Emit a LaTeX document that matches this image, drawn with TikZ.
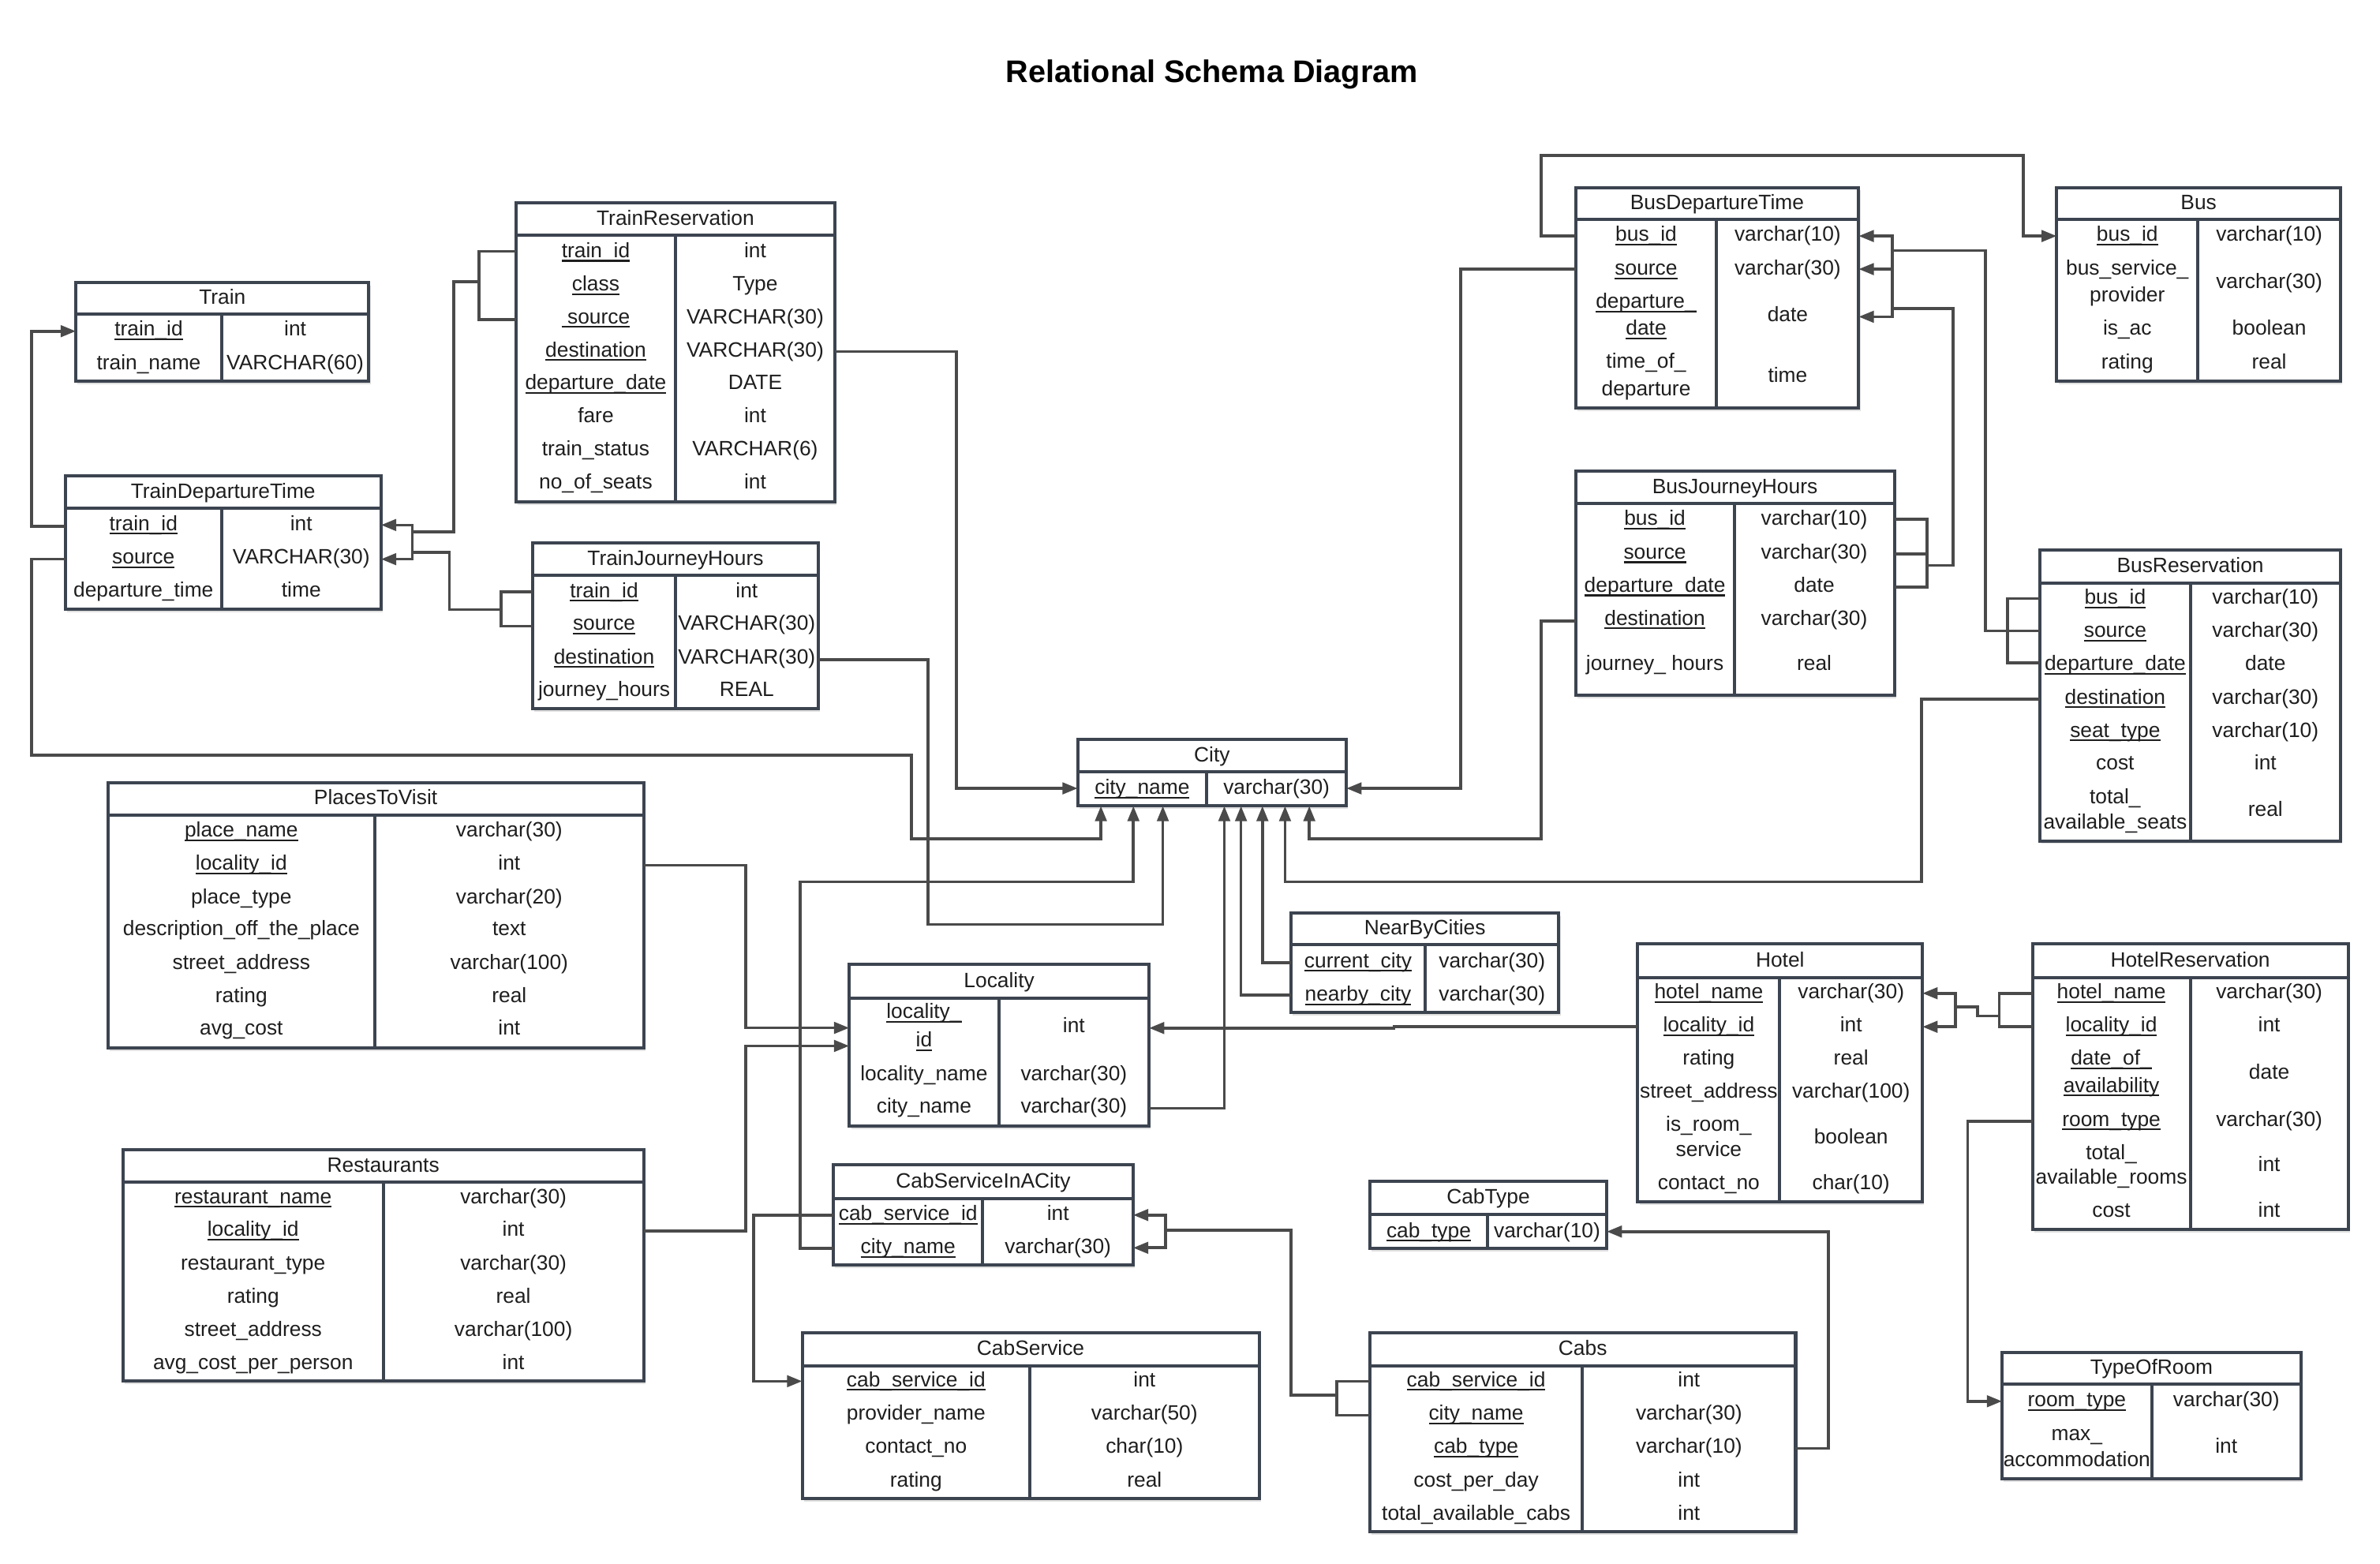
\documentclass[tikz,border=0pt]{standalone}
\usepackage{fontspec}
\setmainfont{Liberation Sans}
\usetikzlibrary{arrows.meta,shadows}
\definecolor{boxc}{HTML}{3C4450}
\definecolor{linec}{HTML}{4A4A4A}
\definecolor{txtc}{HTML}{1E1E1E}
\tikzset{
 tbox/.style={draw=boxc, line width=2.1pt, fill=white, rectangle, inner sep=0pt, outer sep=0pt,
   drop shadow={shadow xshift=1.2pt, shadow yshift=-2pt, opacity=0.12, fill=black}},
 tline/.style={draw=boxc, line width=2.1pt},
 ttitle/.style={anchor=base, inner sep=0pt, text=txtc, font=\fontsize{13.7}{16}\selectfont},
 ftext/.style={anchor=base, inner sep=0pt, text=txtc, font=\fontsize{13.7}{16}\selectfont},
 conn/.style={draw=linec, line width=1.9pt},
 arr/.style={conn, -{Triangle[length=10pt,width=7.5pt]}},
}
\newcommand\uk[1]{\setbox0\hbox{#1}\rlap{\rule[-2.7pt]{\wd0}{1.1pt}}\box0}
\newcommand\Tbl[8]{%
 \node[tbox, minimum width={#4-#2}, minimum height={#5-#3}, anchor=north west] (#1) at (#2,#3) {};
 \draw[tline] (#2,#6) -- (#4,#6);
 \draw[tline] (#7,#6) -- (#7,#5);
 \node[ttitle] (#1-title) at ({(#2+#4)/2},{(#3+#6)/2+4}) {#8};
 \gdef\KX{(#2+#7)/2}\gdef\TX{(#7+#4)/2}%
}
\newcommand\FRow[4]{\node[ftext] (#1-k) at ({\KX},{#2+4.8}) {#3}; \node[ftext] (#1-t) at ({\TX},{#2+4.8}) {#4};}
\newcommand\FKey[3]{\node[ftext] (#1) at ({\KX},{#2+4.8}) {#3};}
\newcommand\FTyp[3]{\node[ftext] (#1) at ({\TX},{#2+4.8}) {#3};}
\begin{document}
\begin{tikzpicture}[x=1pt,y=-1pt]
\useasboundingbox (0,0) rectangle (1568,1030);
\node[anchor=base, inner sep=0pt, font=\fontsize{20.6}{24}\selectfont\bfseries] (title) at (798.5,54.5) {Relational Schema Diagram};

% ---------- tables ----------
\Tbl{train}{50}{186}{243}{251}{207}{146}{Train}
\FRow{train-1}{216.6}{\uk{train\_id}}{int}
\FRow{train-2}{238.7}{train\_name}{VARCHAR(60)}

\Tbl{tdt}{43}{313.5}{251}{401.5}{335}{146}{TrainDepartureTime}
\FRow{tdt-1}{344.7}{\uk{train\_id}}{int}
\FRow{tdt-2}{366.8}{\uk{source}}{VARCHAR(30)}
\FRow{tdt-3}{388.4}{departure\_time}{time}

\Tbl{tr}{340}{133.5}{550}{330.5}{155}{445}{TrainReservation}
\FRow{tr-1}{164.9}{\uk{train\_id}}{int}
\FRow{tr-2}{186.9}{\uk{class}}{Type}
\FRow{tr-3}{208.5}{\uk{\ source}}{VARCHAR(30)}
\FRow{tr-4}{230.3}{\uk{destination}}{VARCHAR(30)}
\FRow{tr-5}{251.9}{\uk{departure\_date}}{DATE}
\FRow{tr-6}{273.5}{fare}{int}
\FRow{tr-7}{295.3}{train\_status}{VARCHAR(6)}
\FRow{tr-8}{317.4}{no\_of\_seats}{int}

\Tbl{tjh}{351}{357.5}{539}{467}{379}{445}{TrainJourneyHours}
\FRow{tjh-1}{388.8}{\uk{train\_id}}{int}
\FRow{tjh-2}{410.4}{\uk{source}}{VARCHAR(30)}
\FRow{tjh-3}{432.5}{\uk{destination}}{VARCHAR(30)}
\FRow{tjh-4}{453.8}{journey\_hours}{REAL}

\Tbl{city}{710}{487}{887}{531}{508.5}{795}{City}
\FRow{city-1}{518.7}{\uk{city\_name}}{varchar(30)}

\Tbl{p2v}{71}{515.5}{424}{690.5}{537}{247}{PlacesToVisit}
\FRow{p2v-1}{546.7}{\uk{place\_name}}{varchar(30)}
\FRow{p2v-2}{568.5}{\uk{locality\_id}}{int}
\FRow{p2v-3}{590.5}{place\_type}{varchar(20)}
\FRow{p2v-4}{611.7}{description\_off\_the\_place}{text}
\FRow{p2v-5}{633.7}{street\_address}{varchar(100)}
\FRow{p2v-6}{655.5}{rating}{real}
\FRow{p2v-7}{677.2}{avg\_cost}{int}

\Tbl{rest}{81}{757.5}{424}{910}{779}{252.5}{Restaurants}
\FRow{rest-1}{788.1}{\uk{restaurant\_name}}{varchar(30)}
\FRow{rest-2}{809.8}{\uk{locality\_id}}{int}
\FRow{rest-3}{831.8}{restaurant\_type}{varchar(30)}
\FRow{rest-4}{853.8}{rating}{real}
\FRow{rest-5}{875.6}{street\_address}{varchar(100)}
\FRow{rest-6}{897.3}{avg\_cost\_per\_person}{int}

\Tbl{loc}{559.5}{635.5}{757}{742}{657.5}{658}{Locality}
\FKey{loc-1a}{666.3}{\uk{locality\_}}
\FKey{loc-1b}{684.9}{\uk{id}}
\FTyp{loc-1t}{675.6}{int}
\FRow{loc-2}{707}{locality\_name}{varchar(30)}
\FRow{loc-3}{728.3}{city\_name}{varchar(30)}

\Tbl{nbc}{850.5}{601.5}{1027}{667}{622.5}{939}{NearByCities}
\FRow{nbc-1}{632.7}{\uk{current\_city}}{varchar(30)}
\FRow{nbc-2}{654.7}{\uk{nearby\_city}}{varchar(30)}

\Tbl{csiac}{549}{767.5}{746.5}{833.5}{789.5}{647.5}{CabServiceInACity}
\FRow{csiac-1}{799.2}{\uk{cab\_service\_id}}{int}
\FRow{csiac-2}{821.2}{\uk{city\_name}}{varchar(30)}

\Tbl{cabsvc}{528.5}{878}{829.5}{987.5}{900}{678.5}{CabService}
\FRow{cabsvc-1}{908.7}{\uk{cab\_service\_id}}{int}
\FRow{cabsvc-2}{930.7}{provider\_name}{varchar(50)}
\FRow{cabsvc-3}{952.8}{contact\_no}{char(10)}
\FRow{cabsvc-4}{974.8}{rating}{real}

\Tbl{cabtype}{902.5}{778.5}{1058.5}{822.5}{800}{980}{CabType}
\FRow{cabtype-1}{810.5}{\uk{cab\_type}}{varchar(10)}

\Tbl{cabs}{902.5}{878}{1183}{1009}{900}{1042.5}{Cabs}
\FRow{cabs-1}{908.7}{\uk{cab\_service\_id}}{int}
\FRow{cabs-2}{930.7}{\uk{city\_name}}{varchar(30)}
\FRow{cabs-3}{952.8}{\uk{cab\_type}}{varchar(10)}
\FRow{cabs-4}{974.8}{cost\_per\_day}{int}
\FRow{cabs-5}{996.8}{total\_available\_cabs}{int}

\Tbl{hotel}{1079}{622}{1266.5}{792}{644}{1172.5}{Hotel}
\FRow{hotel-1}{653.1}{\uk{hotel\_name}}{varchar(30)}
\FRow{hotel-2}{675}{\uk{locality\_id}}{int}
\FRow{hotel-3}{696.9}{rating}{real}
\FRow{hotel-4}{718.5}{street\_address}{varchar(100)}
\FKey{hotel-5a}{740.4}{is\_room\_}
\FKey{hotel-5b}{757.1}{service}
\FTyp{hotel-5t}{748.6}{boolean}
\FRow{hotel-6}{779}{contact\_no}{char(10)}

\Tbl{hr}{1339}{622}{1547}{810}{644}{1443}{HotelReservation}
\FRow{hr-1}{653.1}{\uk{hotel\_name}}{varchar(30)}
\FRow{hr-2}{675}{\uk{locality\_id}}{int}
\FKey{hr-3a}{696.9}{\uk{date\_of\_}}
\FKey{hr-3b}{714.8}{\uk{availability}}
\FTyp{hr-3t}{706.1}{date}
\FRow{hr-4}{737.2}{\uk{room\_type}}{varchar(30)}
\FKey{hr-5a}{759.1}{total\_}
\FKey{hr-5b}{775.2}{available\_rooms}
\FTyp{hr-5t}{767}{int}
\FRow{hr-6}{796.9}{cost}{int}

\Tbl{tor}{1319}{891}{1516}{974.5}{912}{1417.5}{TypeOfRoom}
\FRow{tor-1}{922}{\uk{room\_type}}{varchar(30)}
\FKey{tor-2a}{944.3}{max\_}
\FKey{tor-2b}{961.5}{accommodation}
\FTyp{tor-2t}{952.8}{int}

\Tbl{bdt}{1038}{123.5}{1224.5}{269}{144.5}{1131}{BusDepartureTime}
\FRow{bdt-1}{154}{\uk{bus\_id}}{varchar(10)}
\FRow{bdt-2}{176.4}{\uk{source}}{varchar(30)}
\FKey{bdt-3a}{198.2}{\uk{departure\_}}
\FKey{bdt-3b}{216.1}{\uk{date}}
\FTyp{bdt-3t}{207.2}{date}
\FKey{bdt-4a}{237.6}{time\_of\_}
\FKey{bdt-4b}{256.1}{departure}
\FTyp{bdt-4t}{247.1}{time}

\Tbl{bus}{1355}{123.5}{1542}{251}{144.5}{1448}{Bus}
\FRow{bus-1}{154}{\uk{bus\_id}}{varchar(10)}
\FKey{bus-2a}{176.4}{bus\_service\_}
\FKey{bus-2b}{194.3}{provider}
\FTyp{bus-2t}{185.4}{varchar(30)}
\FRow{bus-3}{216.1}{is\_ac}{boolean}
\FRow{bus-4}{238.2}{rating}{real}

\Tbl{bjh}{1038}{310.5}{1248}{458}{331.5}{1142.5}{BusJourneyHours}
\FRow{bjh-1}{341.4}{\uk{bus\_id}}{varchar(10)}
\FRow{bjh-2}{363.5}{\uk{source}}{varchar(30)}
\FRow{bjh-3}{385.3}{\uk{departure\_date}}{date}
\FRow{bjh-4}{407.1}{\uk{destination}}{varchar(30)}
\FRow{bjh-5}{436.9}{journey\_ hours}{real}

\Tbl{br}{1344}{362.5}{1542}{554}{384}{1443}{BusReservation}
\FRow{br-1}{393.4}{\uk{bus\_id}}{varchar(10)}
\FRow{br-2}{415.2}{\uk{source}}{varchar(30)}
\FRow{br-3}{437}{\uk{departure\_date}}{date}
\FRow{br-4}{459}{\uk{destination}}{varchar(30)}
\FRow{br-5}{480.8}{\uk{seat\_type}}{varchar(10)}
\FRow{br-6}{502.6}{cost}{int}
\FKey{br-7a}{524.7}{total\_}
\FKey{br-7b}{541.4}{available\_seats}
\FTyp{br-7t}{533}{real}

% ---------- connectors ----------
\draw[arr] (tdt.west |- 0,346.6) -- (20.8,346.6) -- (20.8,218.2) -- (train.west |- 0,218.2);
\draw[arr] (tdt.west |- 0,368.4) -- (20.8,368.4) -- (20.8,497.4) -- (600.6,497.4) -- (600.6,552.6) -- (725.3,552.6) -- (725.3,0 |- city.south);
\draw[conn] (tr.west |- 0,165.6) -- (315.5,165.6) -- (315.5,210.6) -- (tr.west |- 0,210.6);
\draw[conn] (315.5,185.7) -- (299,185.7) -- (299,350.5) -- (271.7,350.5);
\draw[conn] (tjh.west |- 0,390) -- (330,390) -- (330,412.5) -- (tjh.west |- 0,412.5);
\draw[conn] (330,401.6) -- (296.1,401.6) -- (296.1,363.8) -- (271.7,363.8);
\draw[arr] (271.7,357) -- (271.7,345.9) -- (tdt.east |- 0,345.9);
\draw[arr] (271.7,357) -- (271.7,368.4) -- (tdt.east |- 0,368.4);
\draw[arr] (tr.east |- 0,231.7) -- (630,231.7) -- (630,519.4) -- (city.west |- 0,519.4);
\draw[arr] (tjh.east |- 0,434.6) -- (611.3,434.6) -- (611.3,609) -- (766.1,609) -- (766.1,0 |- city.south);

\draw[arr] (p2v.east |- 0,570.1) -- (491.4,570.1) -- (491.4,677.2) -- (loc.west |- 0,677.2);
\draw[arr] (rest.east |- 0,811.1) -- (491.4,811.1) -- (491.4,689.1) -- (loc.west |- 0,689.1);
\draw[arr] (csiac.west |- 0,822.5) -- (527.3,822.5) -- (527.3,580.9) -- (746.7,580.9) -- (746.7,0 |- city.south);
\draw[arr] (csiac.west |- 0,800.5) -- (496.5,800.5) -- (496.5,910) -- (cabsvc.west |- 0,910);
\draw[conn] (cabs.west |- 0,910.1) -- (880.6,910.1) -- (880.6,932.5) -- (cabs.west |- 0,932.5);
\draw[conn] (880.6,919.3) -- (850.4,919.3) -- (850.4,810.5) -- (767.8,810.5);
\draw[arr] (767.8,810.5) -- (767.8,800.5) -- (csiac.east |- 0,800.5);
\draw[arr] (767.8,810.5) -- (767.8,822.1) -- (csiac.east |- 0,822.1);
\draw[arr] (cabs.east |- 0,954.3) -- (1204.6,954.3) -- (1204.6,811.4) -- (cabtype.east |- 0,811.4);
\draw[arr] (loc.east |- 0,730.2) -- (806.6,730.2) -- (806.6,0 |- city.south);
\draw[arr] (nbc.west |- 0,655.5) -- (817.6,655.5) -- (817.6,0 |- city.south);
\draw[arr] (nbc.west |- 0,634.3) -- (831.7,634.3) -- (831.7,0 |- city.south);
\draw[arr] (br.west |- 0,460.5) -- (1266,460.5) -- (1266,580.9) -- (846.6,580.9) -- (846.6,0 |- city.south);
\draw[arr] (bjh.west |- 0,409.2) -- (1015.5,409.2) -- (1015.5,552.6) -- (862.6,552.6) -- (862.6,0 |- city.south);
\draw[arr] (bdt.west |- 0,177.3) -- (962.2,177.3) -- (962.2,519.4) -- (city.east |- 0,519.4);
\draw[arr] (hotel.west |- 0,676.3) -- (918.3,676.3) -- (918.3,677.3) -- (loc.east |- 0,677.3);

\draw[conn] (hr.west |- 0,654.4) -- (1317.2,654.4) -- (1317.2,676.5) -- (hr.west |- 0,676.5);
\draw[conn] (1317.2,669.3) -- (1302.8,669.3) -- (1302.8,663.3) -- (1288.4,663.3);
\draw[arr] (1288.4,663.3) -- (1288.4,654.4) -- (hotel.east |- 0,654.4);
\draw[arr] (1288.4,663.3) -- (1288.4,676.5) -- (hotel.east |- 0,676.5);
\draw[arr] (hr.west |- 0,738.9) -- (1296.4,738.9) -- (1296.4,923.2) -- (tor.west |- 0,923.2);

\draw[arr] (bdt.west |- 0,155.5) -- (1015.5,155.5) -- (1015.5,102.4) -- (1333,102.4) -- (1333,155.5) -- (bus.west |- 0,155.5);
\draw[conn] (br.west |- 0,394.3) -- (1322.7,394.3) -- (1322.7,436.6) -- (br.west |- 0,436.6);
\draw[conn] (br.west |- 0,415.7) -- (1307.9,415.7) -- (1307.9,165.1) -- (1246.8,165.1);
\draw[arr] (1246.8,180) -- (1246.8,155.5) -- (bdt.east |- 0,155.5);
\draw[arr] (1246.8,177.3) -- (bdt.east |- 0,177.3);
\draw[arr] (1246.8,180) -- (1246.8,208.7) -- (bdt.east |- 0,208.7);
\draw[conn] (bjh.east |- 0,342) -- (1269.7,342) -- (1269.7,386.8) -- (bjh.east |- 0,386.8);
\draw[conn] (bjh.east |- 0,365) -- (1269.7,365);
\draw[conn] (1269.7,372.5) -- (1286.8,372.5) -- (1286.8,203.3) -- (1246.8,203.3);
\end{tikzpicture}
\end{document}
